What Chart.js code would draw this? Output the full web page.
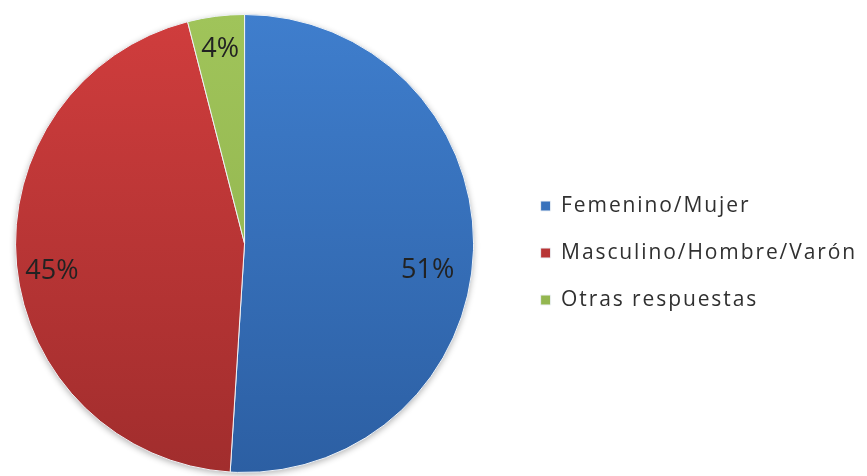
<!DOCTYPE html>
<html lang="es">
<head>
<meta charset="utf-8">
<title>Género</title>
<script src="https://cdn.jsdelivr.net/npm/chart.js@4.4.1/dist/chart.umd.min.js"></script>
<style>
  html, body { margin: 0; padding: 0; background: #fff; }
  #wrap { width: 867px; height: 476px; position: relative; }
</style>
</head>
<body>
<div id="wrap"><canvas id="chartGenero"></canvas></div>
<script>
// --- Datos ---
const categorias = ['Femenino/Mujer', 'Masculino/Hombre/Varón', 'Otras respuestas'];
const porcentajes = [51, 45, 4];

// colores (arriba -> abajo, degradado suave como en el original)
const coloresArriba = ['#3f7ecd', '#d03d3d', '#a0c45a'];
const coloresAbajo = ['#2c5fa3', '#a12d2d', '#8cae4a'];

function degradado(context) {
    const chart = context.chart;
    const i = context.dataIndex;
    const area = chart.chartArea;
    if (!area) return coloresArriba[i];
    const g = chart.ctx.createLinearGradient(0, area.top, 0, area.bottom);
    g.addColorStop(0, coloresArriba[i]);
    g.addColorStop(1, coloresAbajo[i]);
    return g;
}

// el texto de la leyenda va algo espaciado
const espaciado = {
    id: 'espaciado',
    beforeLayout(chart) { chart.ctx.letterSpacing = '1.9px'; },
    beforeDraw(chart) { chart.ctx.letterSpacing = '1.9px'; }
};

// sombra del círculo + porcentajes dentro de cada porción
const etiquetas = {
    id: 'etiquetas',
    beforeDatasetsDraw(chart) {
        const arc = chart.getDatasetMeta(0).data[0];
        if (!arc) return;
        const ctx = chart.ctx;
        ctx.save();
        ctx.shadowColor = 'rgba(0,0,0,0.3)';
        ctx.shadowBlur = 6;
        ctx.shadowOffsetY = 2;
        ctx.fillStyle = '#fff';
        ctx.beginPath();
        ctx.arc(arc.x, arc.y, arc.outerRadius, 0, Math.PI * 2);
        ctx.fill();
        ctx.restore();
    },
    afterDatasetsDraw(chart, args, opts) {
        const ctx = chart.ctx;
        const meta = chart.getDatasetMeta(0);
        ctx.save();
        ctx.letterSpacing = '0px';
        ctx.font = opts.font;
        ctx.fillStyle = opts.color;
        ctx.textAlign = 'center';
        ctx.textBaseline = 'middle';
        meta.data.forEach((arc, i) => {
            const p = arc.getProps(['x', 'y', 'startAngle', 'endAngle', 'outerRadius'], true);
            const mid = (p.startAngle + p.endAngle) / 2;
            const r = p.outerRadius * opts.radio[i];
            ctx.fillText(porcentajes[i] + '%', p.x + Math.cos(mid) * r, p.y + Math.sin(mid) * r + opts.desplazY[i]);
        });
        ctx.restore();
    }
};

new Chart(document.getElementById('chartGenero'), {
    type: 'pie',
    data: {
        labels: categorias,
        datasets: [{
            data: porcentajes,
            backgroundColor: degradado,
            borderColor: '#eef2f6',
            borderWidth: 1
        }]
    },
    options: {
        responsive: true,
        maintainAspectRatio: false,
        animation: false,
        events: [],
        layout: { padding: { left: 0, right: 0, top: 14, bottom: 3 } },
        plugins: {
            // título vacío a la derecha: solo deja hueco entre el círculo y la leyenda
            title: {
                display: true,
                position: 'right',
                text: '',
                font: { size: 10 },
                padding: { top: 13.5, bottom: 0 }
            },
            legend: {
                position: 'right',
                weight: 3000,
                maxWidth: 400,
                title: { display: true, text: '', font: { size: 10 }, padding: { top: 0, bottom: 7 } },
                labels: {
                    boxWidth: 10,
                    boxHeight: 10,
                    padding: 26,
                    color: '#303030',
                    font: { family: 'Open Sans', size: 21 }
                }
            },
            tooltip: { enabled: false },
            etiquetas: {
                font: '27px "Open Sans"',
                color: '#222',
                radio: [0.8, 0.845, 0.85],
                desplazY: [21, 10, -1]
            }
        }
    },
    plugins: [espaciado, etiquetas]
});
</script>
</body>
</html>
